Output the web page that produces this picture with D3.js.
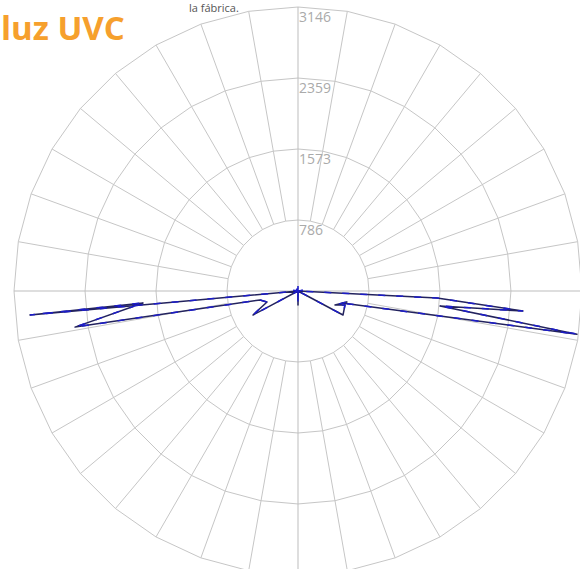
<!DOCTYPE html>
<html>
<head>
<meta charset="utf-8">
<script src="https://cdn.jsdelivr.net/npm/d3@7"></script>
<style>
  html, body { margin: 0; padding: 0; background: #fff; }
  svg { display: block; }
</style>
</head>
<body>
<svg id="chart" width="580" height="569"></svg>
<script>
// ring values (cd) printed on the vertical axis
const ringValues = [786, 1573, 2359, 3146];
const maxValue = 3146;

// gamma angles from nadir (negative = left half), and intensity (cd)
const gammaC0 = [-90, -87, -84.9, -85.6, -80.8, -76.7, -70.5, -61.9, -55, -10, 0, 10,
  55, 61.9, 73.4, 69.3, 77.3, 74.7, 81.2, 84.0, 84.9, 87.1, 89, 90];
const cdC0 = [0, 0, 2981, 1722, 2502, 433, 364, 565, 0, 0, 155, 0,
  0, 565, 543, 438, 556, 505, 3127, 1582, 2502, 1542, 0, 0];

const gammaC90 = [-180, -160, -140, -120, -100, -90, -87, -84.9, -85.6, -80.8, -76.7, -70.5, -61.9, -55,
  -40, -20, 0, 20, 40, 55, 61.9, 73.4, 69.3, 77.3, 74.7, 81.2, 84.0, 84.9, 87.1, 89,
  100, 120, 140, 160, 180];
const cdC90 = [55, 5, 60, 5, 55, 0, 0, 2981, 1722, 2502, 433, 364, 565, 0,
  55, 5, 150, 5, 55, 0, 565, 543, 438, 556, 505, 3127, 1582, 2502, 1542, 0,
  55, 5, 60, 5, 55];

const gridAngles = d3.range(0, 360, 10);

const svg = d3.select('#chart');
const cx = 298, cy = 291, R = 284;

const r = d3.scaleLinear().domain([0, maxValue]).range([0, R]);
const rad = deg => deg * Math.PI / 180;
// gamma measured from nadir -> lineRadial angle (0 = up, clockwise)
const toAngle = g => rad(180 - g);

const g = svg.append('g').attr('transform', `translate(${cx},${cy})`);

// rings drawn as polygons through the spokes
const ringLine = d3.lineRadial().curve(d3.curveLinearClosed);
g.selectAll('path.ring')
  .data(ringValues)
  .join('path')
  .attr('class', 'ring')
  .attr('d', v => ringLine(gridAngles.map(a => [rad(a), r(v)])))
  .attr('fill', 'none')
  .attr('stroke', '#c6c6c6')
  .attr('stroke-width', 1);

// spokes between inner and outer ring
g.selectAll('line.spoke')
  .data(gridAngles.filter(a => a % 90 !== 0))
  .join('line')
  .attr('class', 'spoke')
  .attr('x1', a => r(ringValues[0]) * Math.sin(rad(a)))
  .attr('y1', a => -r(ringValues[0]) * Math.cos(rad(a)))
  .attr('x2', a => r(maxValue) * Math.sin(rad(a)))
  .attr('y2', a => -r(maxValue) * Math.cos(rad(a)))
  .attr('stroke', '#c6c6c6')
  .attr('stroke-width', 1);

// main axes through the centre
g.append('line')
  .attr('x1', 0).attr('x2', 0)
  .attr('y1', -r(maxValue)).attr('y2', r(maxValue))
  .attr('stroke', '#bdbdbd');
g.append('line')
  .attr('y1', 0).attr('y2', 0)
  .attr('x1', -r(maxValue)).attr('x2', r(maxValue))
  .attr('stroke', '#bdbdbd');

// ring labels
g.selectAll('text.ringLabel')
  .data(ringValues)
  .join('text')
  .attr('class', 'ringLabel')
  .attr('x', 1)
  .attr('y', v => -r(v) + 15)
  .attr('font-family', '"Open Sans", sans-serif')
  .attr('font-size', 14)
  .attr('fill', '#aaaaaa')
  .text(v => v);

// intensity curves
const curve = d3.lineRadial();
const c90 = gammaC90.map((a, i) => [toAngle(a), r(cdC90[i])]);
const c0 = gammaC0.map((a, i) => [toAngle(a), r(cdC0[i])]);

g.append('path')
  .attr('d', curve(c0))
  .attr('fill', 'none')
  .attr('stroke', '#23235e')
  .attr('stroke-width', 1.5)
  .attr('stroke-linejoin', 'round');

g.append('path')
  .attr('d', curve(c90))
  .attr('fill', 'none')
  .attr('stroke', '#1c1cc8')
  .attr('stroke-width', 1.5)
  .attr('stroke-dasharray', '7,11');

// header texts
svg.append('text')
  .attr('x', 1).attr('y', 40)
  .attr('font-family', '"Open Sans", sans-serif')
  .attr('font-weight', 'bold')
  .attr('font-size', 33)
  .attr('fill', '#f6a02d')
  .text('luz UVC');

svg.append('text')
  .attr('x', 189).attr('y', 12)
  .attr('font-family', '"Open Sans", sans-serif')
  .attr('font-size', 11)
  .attr('fill', '#555')
  .text('la fábrica.');
</script>
</body>
</html>
